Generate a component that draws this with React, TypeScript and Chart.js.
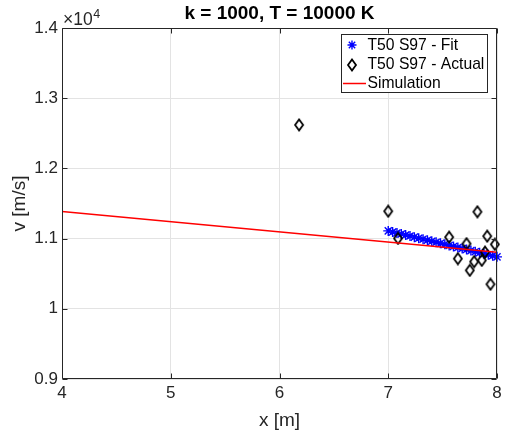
import React, { useEffect, useRef } from "react";
import { Chart, registerables } from "chart.js";
Chart.register(...registerables);

const titleText = "k = 1000, T = 10000 K";
const xLabel = "x [m]";
const yLabel = "v [m/s]";
const legendLabels = ["T50 S97 - Fit", "T50 S97 - Actual", "Simulation"];

const xTicks = [4, 5, 6, 7, 8];
const yTicks = [9000, 10000, 11000, 12000, 13000, 14000];
const yTickLabels = ["0.9", "1", "1.1", "1.2", "1.3", "1.4"];

const fitX = [7.0, 7.04, 7.08, 7.12, 7.16, 7.2, 7.24, 7.28, 7.32, 7.36, 7.4, 7.44, 7.48, 7.52, 7.56, 7.6, 7.64, 7.68, 7.72, 7.76, 7.8, 7.84, 7.88, 7.92, 7.96, 8.0];
const fitY = [11110, 11095, 11080, 11066, 11051, 11036, 11021, 11006, 10992, 10977, 10962, 10947, 10932, 10918, 10903, 10888, 10873, 10858, 10844, 10829, 10814, 10799, 10784, 10770, 10755, 10740];

const actualX = [6.18, 7.0, 7.09, 7.56, 7.64, 7.72, 7.75, 7.79, 7.82, 7.86, 7.89, 7.91, 7.94, 7.98];
const actualY = [12620, 11390, 11003, 11021, 10714, 10928, 10548, 10672, 11382, 10690, 10808, 11035, 10350, 10918];

const simX = [4, 8];
const simY = [11385, 10805];

const FONT = "'Liberation Sans', Arial, Helvetica, sans-serif";
const AX = "#262626";

function makeDiamond(): HTMLCanvasElement {
  const c = document.createElement("canvas");
  c.width = 12;
  c.height = 14;
  const g = c.getContext("2d")!;
  g.strokeStyle = "#000";
  g.lineWidth = 1.8;
  g.lineJoin = "miter";
  g.beginPath();
  g.moveTo(6, 1.5);
  g.lineTo(10, 7);
  g.lineTo(6, 12.5);
  g.lineTo(2, 7);
  g.closePath();
  g.stroke();
  return c;
}

function drawStar(ctx: CanvasRenderingContext2D, x: number, y: number, r: number) {
  ctx.beginPath();
  ctx.moveTo(x - r, y);
  ctx.lineTo(x + r, y);
  ctx.moveTo(x, y - r);
  ctx.lineTo(x, y + r);
  const d = r * Math.SQRT1_2;
  ctx.moveTo(x - d, y - d);
  ctx.lineTo(x + d, y + d);
  ctx.moveTo(x - d, y + d);
  ctx.lineTo(x + d, y - d);
  ctx.stroke();
}

export default function App() {
  const ref = useRef<HTMLCanvasElement>(null);
  useEffect(() => {
    const diamond = makeDiamond();
    const matlab = {
      id: "matlab",
      afterDraw(chart: any) {
        const { ctx, chartArea: a, scales } = chart;
        const xs = scales.x;
        const ys = scales.y;
        ctx.save();
        const L = Math.round(a.left) + 0.5;
        const R = Math.round(a.right) - 0.5;
        const T = Math.round(a.top) + 0.5;
        const B = Math.round(a.bottom) - 0.5;
        ctx.strokeStyle = AX;
        ctx.lineWidth = 1;
        ctx.beginPath();
        ctx.rect(L, T, R - L, B - T);
        ctx.stroke();
        // ticks
        ctx.beginPath();
        for (const v of xTicks) {
          const px = Math.round(xs.getPixelForValue(v)) + 0.5;
          ctx.moveTo(px, B);
          ctx.lineTo(px, B - 5);
          ctx.moveTo(px, T);
          ctx.lineTo(px, T + 5);
        }
        for (const v of yTicks) {
          const py = Math.round(ys.getPixelForValue(v)) + 0.5;
          ctx.moveTo(L, py);
          ctx.lineTo(L + 5, py);
          ctx.moveTo(R, py);
          ctx.lineTo(R - 5, py);
        }
        ctx.stroke();
        // title
        ctx.fillStyle = "#000";
        ctx.font = `bold 19px ${FONT}`;
        ctx.textAlign = "center";
        ctx.textBaseline = "alphabetic";
        ctx.fillText(titleText, (a.left + a.right) / 2, 18.5);
        // exponent
        ctx.fillStyle = AX;
        ctx.textAlign = "left";
        ctx.font = `17.5px ${FONT}`;
        ctx.fillText("\u00d710", 63, 24.5);
        const w = ctx.measureText("\u00d710").width;
        ctx.font = `12.5px ${FONT}`;
        ctx.fillText("4", 63 + w + 0.5, 17.5);
        // axis labels
        ctx.font = `19px ${FONT}`;
        ctx.textAlign = "center";
        ctx.fillText(xLabel, (a.left + a.right) / 2, 426);
        ctx.save();
        ctx.translate(20, (a.top + a.bottom) / 2);
        ctx.rotate(-Math.PI / 2);
        ctx.textBaseline = "middle";
        ctx.fillText(yLabel, 0, 0);
        ctx.restore();
        // legend
        const lx = 341.5, ly = 34.5, lw = 146, lh = 58;
        ctx.fillStyle = "#fff";
        ctx.fillRect(lx, ly, lw, lh);
        ctx.strokeStyle = AX;
        ctx.lineWidth = 1;
        ctx.strokeRect(lx, ly, lw, lh);
        const rows = [45, 64.5, 83.5];
        ctx.font = `15.7px ${FONT}`;
        ctx.textAlign = "left";
        ctx.textBaseline = "middle";
        ctx.fillStyle = "#000";
        legendLabels.forEach((t, i) => ctx.fillText(t, 367.5, rows[i] + 0.5));
        ctx.strokeStyle = "#0000ff";
        ctx.lineWidth = 1.4;
        drawStar(ctx, 352, rows[0], 4.5);
        ctx.drawImage(diamond, 352 - 6, Math.round(rows[1] - 7));
        ctx.strokeStyle = "#ff0000";
        ctx.lineWidth = 1.5;
        ctx.beginPath();
        ctx.moveTo(343, rows[2]);
        ctx.lineTo(366, rows[2]);
        ctx.stroke();
        ctx.restore();
      },
    };

    const chart = new Chart(ref.current!, {
      type: "scatter",
      data: {
        datasets: [
          {
            label: legendLabels[2],
            data: simX.map((x, i) => ({ x, y: simY[i] })),
            showLine: true,
            borderColor: "#ff0000",
            borderWidth: 1.5,
            pointRadius: 0,
            order: 0,
          },
          {
            label: legendLabels[1],
            data: actualX.map((x, i) => ({ x, y: actualY[i] })),
            pointStyle: diamond as any,
            pointRadius: 5,
            order: 1,
            clip: false as any,
          },
          {
            label: legendLabels[0],
            data: fitX.map((x, i) => ({ x, y: fitY[i] })),
            pointStyle: "star",
            pointRadius: 5,
            borderColor: "#0000ff",
            backgroundColor: "#0000ff",
            borderWidth: 1.4,
            order: 2,
            clip: false as any,
          },
        ],
      },
      options: {
        animation: false,
        responsive: false,
        devicePixelRatio: 1,
        layout: { padding: { left: 0, right: 11, top: 28, bottom: 0 } },
        plugins: {
          legend: { display: false },
          title: { display: false },
          tooltip: { enabled: false },
        },
        scales: {
          x: {
            type: "linear",
            min: 4,
            max: 8,
            afterBuildTicks: (s: any) => {
              s.ticks = xTicks.map((v) => ({ value: v }));
            },
            ticks: {
              font: { family: FONT, size: 17 },
              color: AX,
              padding: 4,
              maxRotation: 0,
              callback: (v: any) => String(v),
            },
            grid: { color: "#e3e3e3", drawTicks: false },
            border: { display: false },
            afterFit: (s: any) => {
              s.height = 56;
            },
          },
          y: {
            type: "linear",
            min: 9000,
            max: 14000,
            afterBuildTicks: (s: any) => {
              s.ticks = yTicks.map((v) => ({ value: v }));
            },
            ticks: {
              font: { family: FONT, size: 17 },
              color: AX,
              padding: 4,
              callback: (v: any) => yTickLabels[yTicks.indexOf(Number(v))] ?? "",
            },
            grid: { color: "#e3e3e3", drawTicks: false },
            border: { display: false },
            afterFit: (s: any) => {
              s.width = 62;
            },
          },
        },
      },
      plugins: [matlab],
    });
    return () => chart.destroy();
  }, []);
  return (
    <div style={{ position: "fixed", left: 0, top: 0, width: 508, height: 435, background: "#fff" }}>
      <canvas ref={ref} width={508} height={435} style={{ width: 508, height: 435 }} />
    </div>
  );
}
